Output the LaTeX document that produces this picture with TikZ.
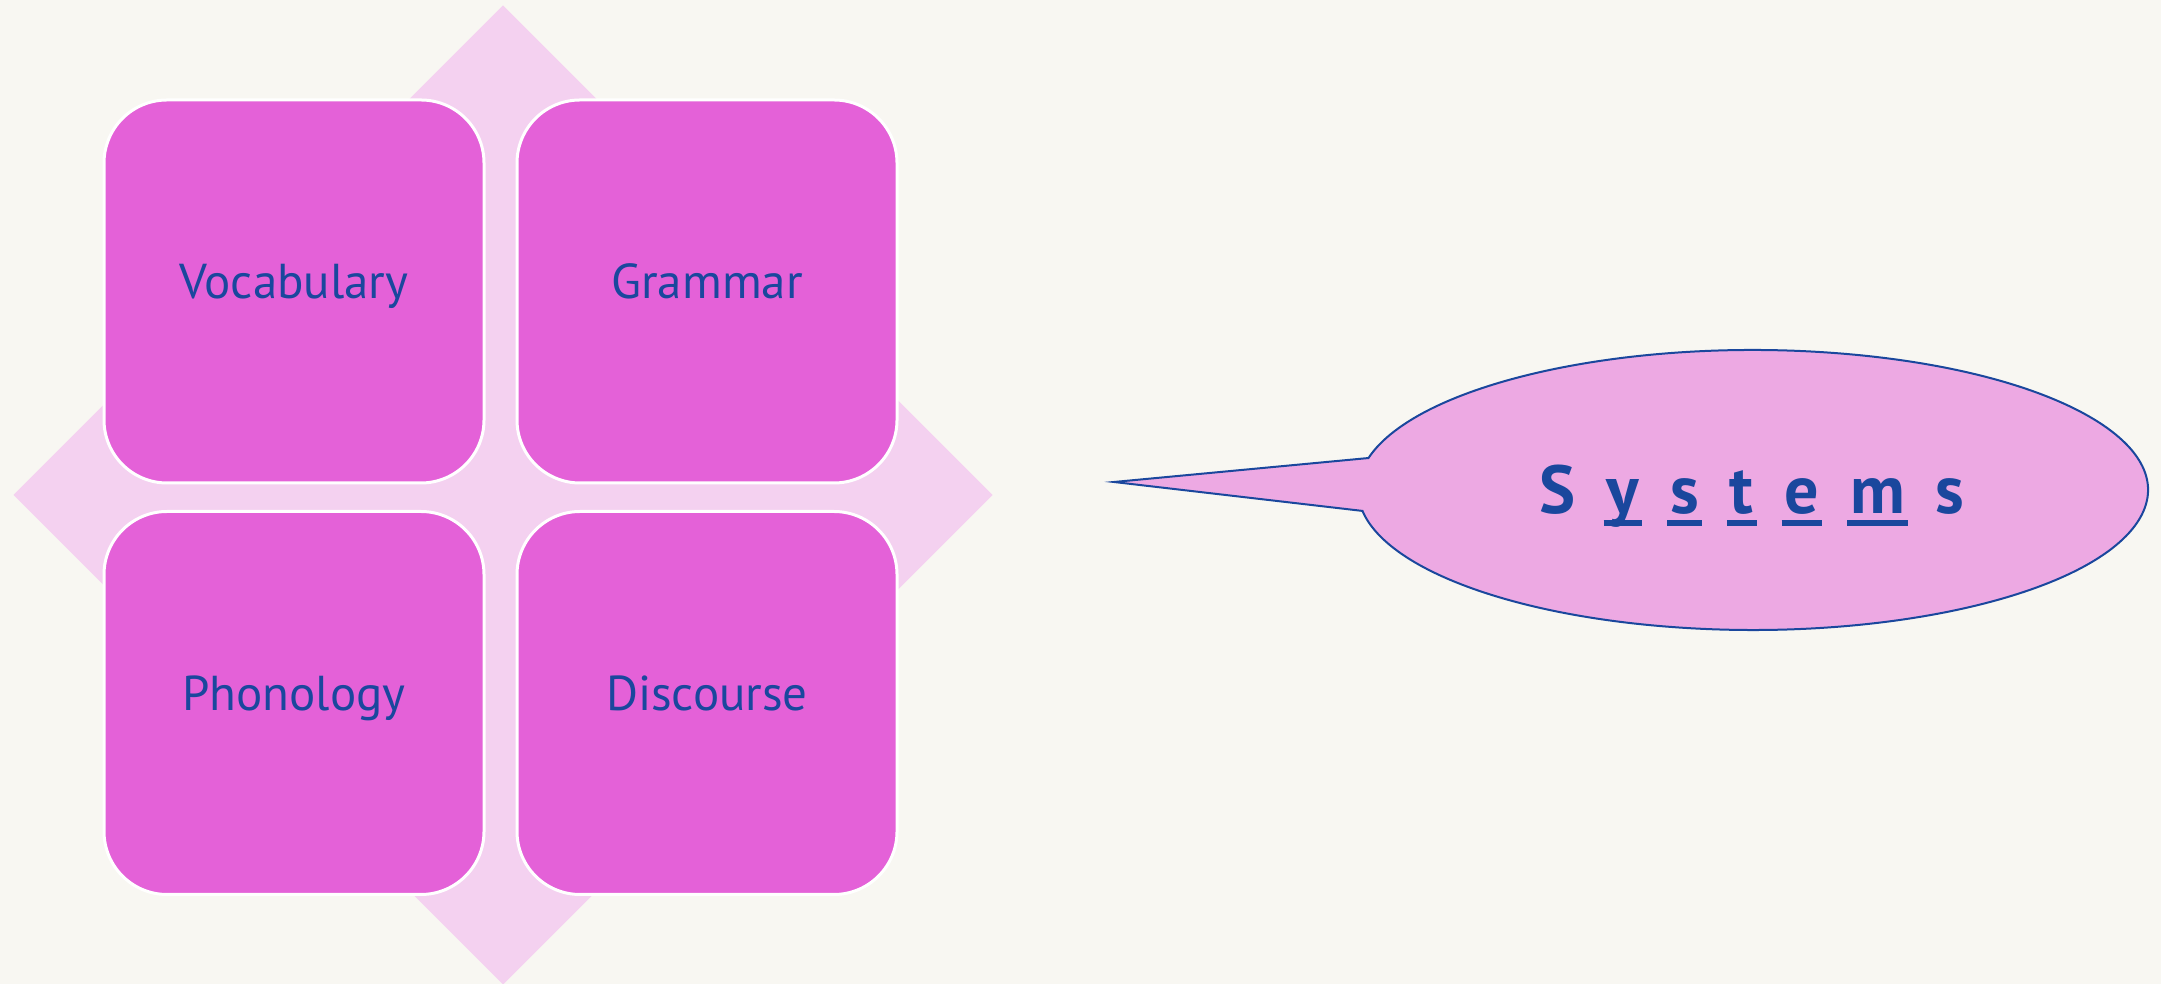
\documentclass[tikz,border=0pt]{standalone}
\usepackage{fontspec}
\setmainfont{PT Sans}
\definecolor{bgc}{HTML}{F8F7F2}
\definecolor{diamc}{HTML}{F4D1F0}
\definecolor{boxc}{HTML}{E461D8}
\definecolor{txtc}{HTML}{1A479D}
\definecolor{ellc}{HTML}{EDA9E3}
\newsavebox\ulbox
\newcommand\ulc[1]{\sbox\ulbox{#1}\rlap{\hspace{-1.5pt}\rule[-6pt]{\dimexpr\wd\ulbox+3pt\relax}{3pt}}\usebox\ulbox}
\begin{document}
\begin{tikzpicture}[x=0.5pt,y=0.5pt,
  box/.style={draw=white,line width=1.5pt,fill=boxc,rounded corners=31.5pt,
    minimum width=190pt,minimum height=191.5pt,inner sep=0pt,
    text=txtc,font=\fontsize{24.5}{29}\selectfont,text height=1em,text depth=0.28em},
  callout/.style={draw=txtc,line width=1pt,fill=ellc},
  systxt/.style={text=txtc,font=\fontsize{34}{40}\selectfont\bfseries,inner sep=0pt,anchor=base}]
\fill[bgc] (0,0) rectangle (2161,984);
\useasboundingbox (0,0) rectangle (2161,984);
% diamond
\fill[diamc] (503,978.5) -- (992.5,489) -- (503,-0.5) -- (13.5,489) -- cycle;
% boxes
\node[box] (voc) at (294,692.5) {Vocabulary};
\node[box] (gram) at (707,692.5) {Grammar};
\node[box] (phon) at (294,281) {Phonology};
\node[box] (disc) at (707,281) {Discourse};
% callout
\coordinate (cc) at (1753,494);
\coordinate (tip) at (1114,502);
\draw[callout] (cc) ++(166.8:197.5pt and 70pt) coordinate (up)
  arc[start angle=166.8,end angle=-171.4,x radius=197.5pt,y radius=70pt]
  -- (tip) -- cycle;
\node[systxt] (sys) at (1752,470) {S\hspace{15.5pt}\ulc{y}\hspace{15.5pt}\ulc{s}\hspace{15.5pt}\ulc{t}\hspace{15.5pt}\ulc{e}\hspace{15.5pt}\ulc{m}\hspace{15.5pt}s};
\end{tikzpicture}
\end{document}
